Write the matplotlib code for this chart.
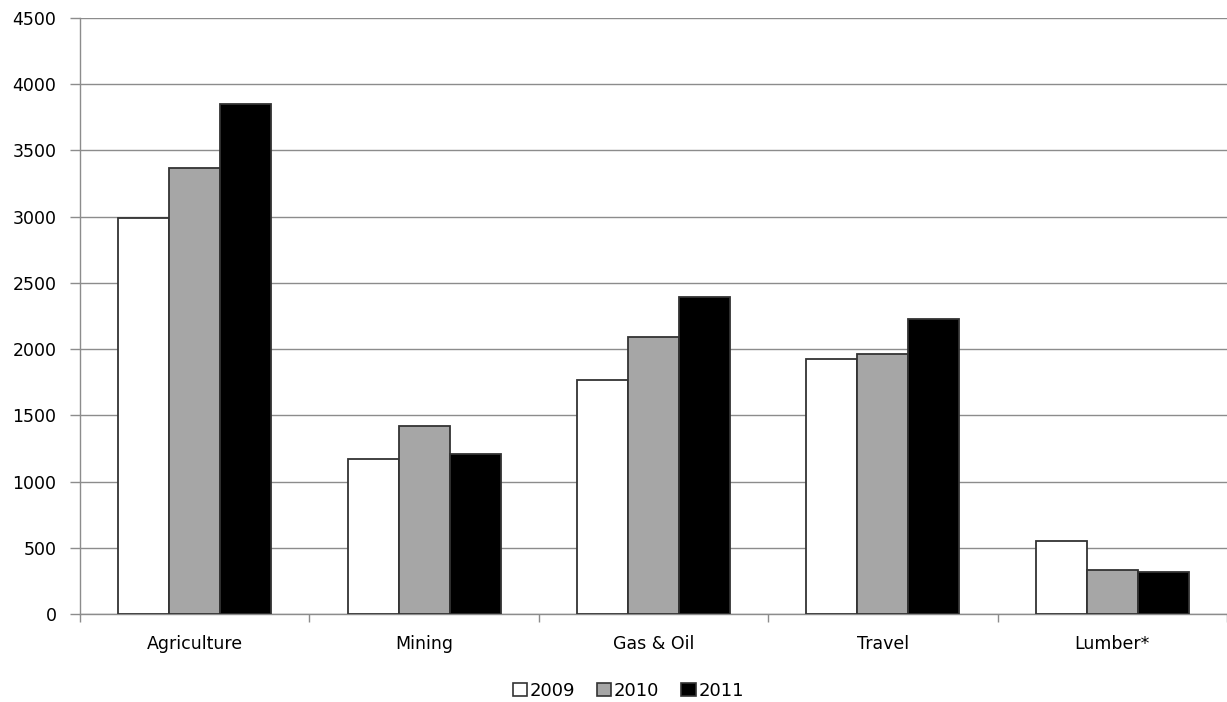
import numpy as np
import matplotlib
matplotlib.use("Agg")
import matplotlib.pyplot as plt
from matplotlib.patches import Patch

plt.rcParams['font.family'] = ['DejaVu Sans']

# chart data
categories = ["Agriculture", "Mining", "Gas & Oil", "Travel", "Lumber*"]
years = ["2009", "2010", "2011"]
values_2009 = [2990, 1170, 1770, 1925, 550]
values_2010 = [3370, 1420, 2090, 1960, 330]
values_2011 = [3850, 1210, 2395, 2230, 320]

series = [values_2009, values_2010, values_2011]
fills = ["white", "#a6a6a6", "black"]
grid_col = "#8c8c8c"

fig = plt.figure(figsize=(12.27, 7.02), dpi=100)
ax = fig.add_axes([0.0652, 0.1254, 0.9348, 0.849])

x = np.arange(len(categories))
# excel style: gap width 150% between groups
bar_w = 1.0 / 4.5
for i, (vals, col) in enumerate(zip(series, fills)):
    ax.bar(x + (i - 1) * bar_w, vals, width=bar_w, color=col,
           edgecolor="#333333", linewidth=1.3, label=years[i], zorder=3)

ax.set_xlim(-0.5, len(categories) - 0.5)
ax.set_ylim(0, 4500)
ax.set_yticks(np.arange(0, 4501, 500))
ax.yaxis.grid(True, color=grid_col, linewidth=1.0, zorder=0)

# category labels between boundary ticks
ax.set_xticks(np.arange(-0.5, len(categories)), minor=False)
ax.set_xticklabels([])
ax.set_xticks(x, minor=True)
ax.set_xticklabels(categories, minor=True)
ax.tick_params(axis="x", which="minor", length=0, pad=15, labelsize=12.5)
ax.tick_params(axis="x", which="major", length=6, color=grid_col, width=1)
ax.tick_params(axis="y", length=7, color=grid_col, width=1, labelsize=12.5, pad=10)

for side in ["top", "right"]:
    ax.spines[side].set_visible(False)
for side in ["left", "bottom"]:
    ax.spines[side].set_color(grid_col)
    ax.spines[side].set_linewidth(1.0)

handles = [Patch(facecolor=c, edgecolor="#333333", linewidth=1.2) for c in fills]
fig.legend(handles, years, loc="center", bbox_to_anchor=(0.512, 0.016),
           ncol=3, frameon=False, fontsize=13, handlelength=0.8, handleheight=0.8,
           handletextpad=0.15, columnspacing=1.2)

fig.savefig("out.png", dpi=100)
